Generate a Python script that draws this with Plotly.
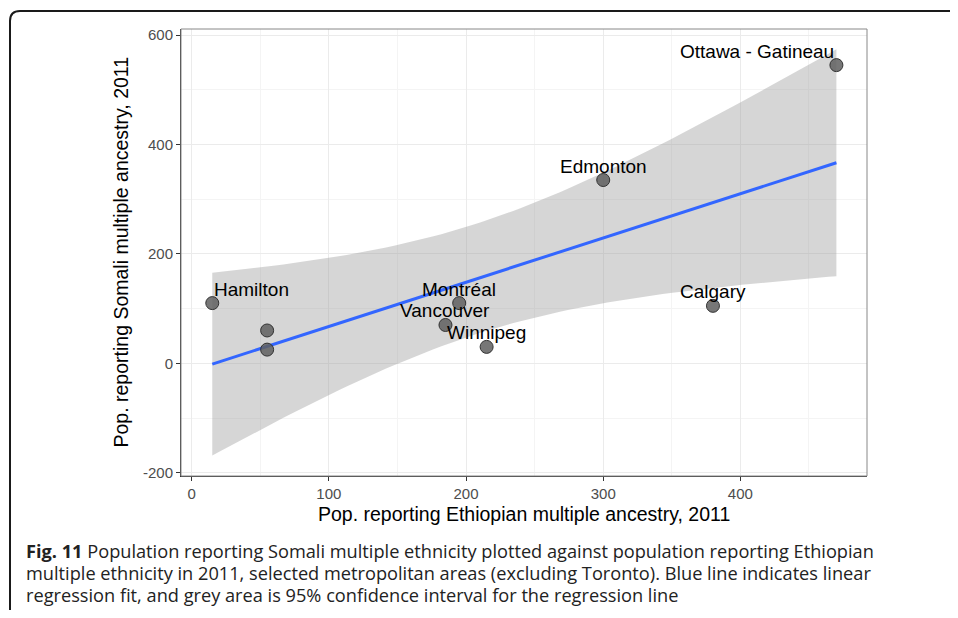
import numpy as np
import plotly.graph_objects as go

# ---- data ----
cities = ["Hamilton", "", "", "Vancouver", "Montréal", "Winnipeg", "Edmonton", "Calgary", "Ottawa - Gatineau"]
ethiopian = [15, 55, 55, 185, 195, 215, 300, 380, 470]
somali = [110, 60, 25, 70, 110, 30, 335, 105, 545]
label_anchor = ["left", "center", "center", "center", "center", "center", "center", "center", "right"]
x_ticks = [0, 100, 200, 300, 400]
y_ticks = [-200, 0, 200, 400, 600]
T_975_DF7 = 2.3646  # t quantile for 95% CI, n-2 = 7 df

caption_lines = [
    "<b>Fig. 11</b> Population reporting Somali multiple ethnicity plotted against population reporting Ethiopian",
    "multiple ethnicity in 2011, selected metropolitan areas (excluding Toronto). Blue line indicates linear",
    "regression fit, and grey area is 95% confidence interval for the regression line",
]

# ---- linear fit with 95% CI (as geom_smooth(method='lm')) ----
x = np.array(ethiopian, float)
y = np.array(somali, float)
n = len(x)
b1, b0 = np.polyfit(x, y, 1)
resid = y - (b0 + b1 * x)
s = np.sqrt((resid ** 2).sum() / (n - 2))
sxx = ((x - x.mean()) ** 2).sum()
xs = np.linspace(x.min(), x.max(), 80)
fit = b0 + b1 * xs
se = s * np.sqrt(1 / n + (xs - x.mean()) ** 2 / sxx)
lo = fit - T_975_DF7 * se
hi = fit + T_975_DF7 * se

# page has an 8px body margin; figure is placed at (8, 8) in the window
OFF = 8
W, H = 958 - 2 * OFF, 618 - 2 * OFF
# plot area in window pixels: left 181, right 866.7, top 29, bottom 476
L, T = 181 - OFF, 29 - OFF
R = W - (867 - OFF)
B = H - (476 - OFF)
pw, ph = W - L - R, H - T - B


def px2x(px):
    return (px - OFF - L) / pw


def py2y(py):
    return (H - B - (py - OFF)) / ph


fig = go.Figure()
fig.add_trace(go.Scatter(
    x=np.concatenate([xs, xs[::-1]]), y=np.concatenate([hi, lo[::-1]]),
    fill="toself", fillcolor="rgba(153,153,153,0.4)", line=dict(width=0),
    mode="lines", hoverinfo="skip", showlegend=False))
fig.add_trace(go.Scatter(x=xs, y=fit, mode="lines",
                         line=dict(color="#3366FF", width=3), showlegend=False))
fig.add_trace(go.Scatter(
    x=ethiopian, y=somali, mode="markers",
    marker=dict(size=13, color="rgba(95,95,95,0.85)", line=dict(color="#333333", width=1)),
    showlegend=False))

for name, xv, yv, anc in zip(cities, ethiopian, somali, label_anchor):
    if not name:
        continue
    fig.add_annotation(x=xv, y=yv, xref="x", yref="y", text=name, showarrow=False,
                       xanchor=anc, yanchor="middle", yshift=14,
                       font=dict(family="Liberation Sans, Arial", size=19, color="black"))

# axis titles
fig.add_annotation(x=0.5, y=py2y(514), xref="paper", yref="paper",
                   text="Pop. reporting Ethiopian multiple ancestry, 2011", showarrow=False,
                   xanchor="center", yanchor="middle",
                   font=dict(family="Liberation Sans, Arial", size=19.5, color="black"))
fig.add_annotation(x=px2x(120), y=0.5, xref="paper", yref="paper", textangle=-90,
                   text="Pop. reporting Somali multiple ancestry, 2011", showarrow=False,
                   xanchor="center", yanchor="middle",
                   font=dict(family="Liberation Sans, Arial", size=19.5, color="black"))

# caption
for line, cy in zip(caption_lines, [551, 573, 595]):
    fig.add_annotation(x=px2x(24), y=py2y(cy), xref="paper", yref="paper", text=line,
                       showarrow=False, xanchor="left", yanchor="middle",
                       font=dict(family="Open Sans", size=18.2, color="#222222"))

# panel border (top/right lighter)
fig.add_shape(type="rect", xref="paper", yref="paper", x0=0, x1=1, y0=0, y1=1,
              line=dict(color="#888888", width=1), layer="above")

# outer rounded frame
xl, yt = px2x(10), py2y(11)
rx, ry = 10 / pw, 10 / ph
path = (f"M {xl},{py2y(640)} L {xl},{yt - ry} Q {xl},{yt} {xl + rx},{yt} "
        f"L {px2x(980)},{yt}")
fig.add_shape(type="path", xref="paper", yref="paper", path=path,
              line=dict(color="#1a1a1a", width=2), layer="above")

axis_common = dict(
    showline=True, linecolor="#333333", linewidth=1,
    ticks="outside", ticklen=4, tickcolor="#333333", tickwidth=1,
    tickfont=dict(family="Liberation Sans, Arial", size=15, color="#4d4d4d"),
    showgrid=True, gridcolor="#ebebeb", gridwidth=1.2, zeroline=False,
)
fig.update_xaxes(range=[-7.8, 492.3], tickvals=x_ticks, ticktext=[str(v) for v in x_ticks],
                 minor=dict(tickvals=[50, 150, 250, 350, 450], showgrid=True,
                            gridcolor="#f4f4f4", gridwidth=0.8, ticks=""),
                 **axis_common)
fig.update_yaxes(range=[-206, 611], tickvals=y_ticks, ticktext=[str(v) for v in y_ticks],
                 minor=dict(tickvals=[-100, 100, 300, 500], showgrid=True,
                            gridcolor="#f4f4f4", gridwidth=0.8, ticks=""),
                 **axis_common)

fig.update_layout(width=W, height=H, margin=dict(l=L, r=R, t=T, b=B),
                  plot_bgcolor="white", paper_bgcolor="white", showlegend=False)

fig.write_html("out.html")
